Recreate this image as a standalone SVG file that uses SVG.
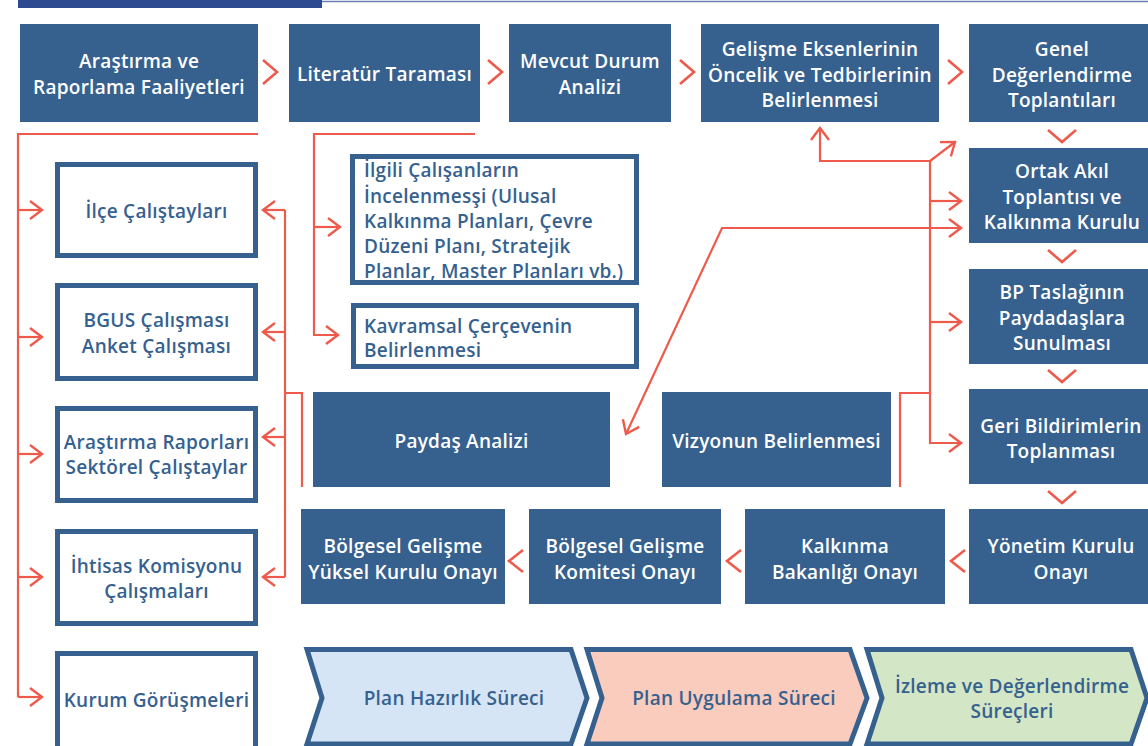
<svg xmlns="http://www.w3.org/2000/svg" width="1148" height="746" viewBox="0 0 1148 746">
<defs>
<style>
.fill{fill:#36618f}
.t{font-family:"Open Sans","Liberation Sans",sans-serif;font-weight:600;font-size:19px;letter-spacing:0.25px;text-anchor:middle}
.w{fill:#ffffff}
.b{fill:#36618f}
.l{text-anchor:start}
.ob{fill:#ffffff;stroke:#36618f;stroke-width:5}
.ch{stroke:#36618f;stroke-width:5;stroke-linejoin:miter}
.c{fill:none;stroke:#ee5a4c;stroke-width:2.2}
.cv{fill:none;stroke:#ee5a4c;stroke-width:2.6}
</style>
<marker id="ah" markerUnits="userSpaceOnUse" viewBox="-14 -11 16 22" refX="0" refY="0" markerWidth="16" markerHeight="22" orient="auto-start-reverse">
<path d="M-12,-9 L0,0 L-12,9" fill="none" stroke="#ee5a4c" stroke-width="2.4"/>
</marker>
</defs>
<rect x="0" y="0" width="1148" height="746" fill="#ffffff"/>
<rect x="18" y="0" width="304" height="8" fill="#2d4a91"/>
<line x1="322" y1="1.5" x2="1148" y2="1.5" stroke="#6b7fb5" stroke-width="1.5"/>

<g id="connectors">
<polyline class="cv" points="263,60 277,72 263,84"/>
<polyline class="cv" points="488,60 502,72 488,84"/>
<polyline class="cv" points="680,60 694,72 680,84"/>
<polyline class="cv" points="948,60 962,72 948,84"/>
<polyline class="cv" points="1048,130 1062,142 1076,130"/>
<polyline class="cv" points="1048,250 1062,262 1076,250"/>
<polyline class="cv" points="1048,370 1062,382 1076,370"/>
<polyline class="cv" points="1048,491 1062,503 1076,491"/>
<polyline class="cv" points="965,550 951,561 965,572"/>
<polyline class="cv" points="741,550 727,561 741,572"/>
<polyline class="cv" points="523,550 509,561 523,572"/>
<path class="c" d="M258,134 L18,134 L18,697"/>
<path class="c" d="M18,210 L42,210" marker-end="url(#ah)"/>
<path class="c" d="M18,337 L42,337" marker-end="url(#ah)"/>
<path class="c" d="M18,454 L42,454" marker-end="url(#ah)"/>
<path class="c" d="M18,577 L42,577" marker-end="url(#ah)"/>
<path class="c" d="M18,697 L42,697" marker-end="url(#ah)"/>
<path class="c" d="M475,134 L314,134 L314,335 L338,335" marker-end="url(#ah)"/>
<path class="c" d="M314,227 L340,227" marker-end="url(#ah)"/>
<path class="c" d="M285,210 L285,577"/>
<path class="c" d="M285,210 L263,210" marker-end="url(#ah)"/>
<path class="c" d="M285,332 L263,332" marker-end="url(#ah)"/>
<path class="c" d="M285,437 L263,437" marker-end="url(#ah)"/>
<path class="c" d="M285,577 L263,577" marker-end="url(#ah)"/>
<path class="c" d="M285,393 L302,393 L302,487"/>
<path class="c" d="M930,161 L820,161 L820,128" marker-end="url(#ah)"/>
<path class="c" d="M930,161 L955,142" marker-end="url(#ah)"/>
<path class="c" d="M930,161 L930,443 L961,443" marker-end="url(#ah)"/>
<path class="c" d="M930,201 L961,201" marker-end="url(#ah)"/>
<path class="c" d="M930,322 L961,322" marker-end="url(#ah)"/>
<path class="c" d="M930,393 L900,393 L900,487"/>
<path class="c" d="M961,228 L722,228 L626,434" marker-start="url(#ah)" marker-end="url(#ah)"/>
</g>

<g id="n-arastirma-raporlama"><rect class="fill" x="20" y="24" width="238" height="98"/>
<text class="t w" x="139" y="68">Araştırma ve</text><text class="t w" x="139" y="94">Raporlama Faaliyetleri</text></g>
<g id="n-literatur"><rect class="fill" x="289" y="24" width="191" height="98"/>
<text class="t w" x="384.5" y="81">Literatür Taraması</text></g>
<g id="n-mevcut"><rect class="fill" x="509" y="24" width="162" height="98"/>
<text class="t w" x="590" y="68">Mevcut Durum</text><text class="t w" x="590" y="94">Analizi</text></g>
<g id="n-gelisme"><rect class="fill" x="701" y="24" width="238" height="98"/>
<text class="t w" x="820" y="56">Gelişme Eksenlerinin</text><text class="t w" x="820" y="81.5">Öncelik ve Tedbirlerinin</text><text class="t w" x="820" y="107">Belirlenmesi</text></g>
<g id="n-genel"><rect class="fill" x="969" y="24" width="179" height="98"/>
<text class="t w" x="1062" y="56">Genel</text><text class="t w" x="1062" y="81.5">Değerlendirme</text><text class="t w" x="1062" y="107">Toplantıları</text></g>
<g id="n-ortak"><rect class="fill" x="969" y="148" width="179" height="95"/>
<text class="t w" x="1062" y="178">Ortak Akıl</text><text class="t w" x="1062" y="204">Toplantısı ve</text><text class="t w" x="1062" y="229">Kalkınma Kurulu</text></g>
<g id="n-bp"><rect class="fill" x="969" y="269" width="179" height="95"/>
<text class="t w" x="1062" y="299">BP Taslağının</text><text class="t w" x="1062" y="325">Paydadaşlara</text><text class="t w" x="1062" y="350">Sunulması</text></g>
<g id="n-geri"><rect class="fill" x="969" y="389" width="179" height="95"/>
<text class="t w" x="1061" y="433">Geri Bildirimlerin</text><text class="t w" x="1061" y="458">Toplanması</text></g>
<g id="n-yonetim"><rect class="fill" x="969" y="509" width="179" height="95"/>
<text class="t w" x="1061" y="553">Yönetim Kurulu</text><text class="t w" x="1061" y="579">Onayı</text></g>
<g id="n-bakanlik"><rect class="fill" x="745" y="509" width="200" height="95"/>
<text class="t w" x="845" y="553">Kalkınma</text><text class="t w" x="845" y="579">Bakanlığı Onayı</text></g>
<g id="n-komite"><rect class="fill" x="529" y="509" width="192" height="95"/>
<text class="t w" x="625" y="553">Bölgesel Gelişme</text><text class="t w" x="625" y="579">Komitesi Onayı</text></g>
<g id="n-yuksel"><rect class="fill" x="301" y="509" width="204" height="95"/>
<text class="t w" x="403" y="553">Bölgesel Gelişme</text><text class="t w" x="403" y="579">Yüksel Kurulu Onayı</text></g>
<g id="n-paydas"><rect class="fill" x="313" y="392" width="297" height="95"/>
<text class="t w" x="461.5" y="448">Paydaş Analizi</text></g>
<g id="n-vizyon"><rect class="fill" x="662" y="392" width="229" height="95"/>
<text class="t w" x="776.5" y="448">Vizyonun Belirlenmesi</text></g>

<g id="n-ilce"><rect class="ob" x="57.5" y="164.5" width="198" height="91"/>
<text class="t b" x="156.5" y="218">İlçe Çalıştayları</text></g>
<g id="n-bgus"><rect class="ob" x="57.5" y="285.5" width="198" height="93"/>
<text class="t b" x="156.5" y="327">BGUS Çalışması</text><text class="t b" x="156.5" y="353">Anket Çalışması</text></g>
<g id="n-raporlar"><rect class="ob" x="57.5" y="408.5" width="198" height="92"/>
<text class="t b" x="156.5" y="449">Araştırma Raporları</text><text class="t b" x="156.5" y="474">Sektörel Çalıştaylar</text></g>
<g id="n-ihtisas"><rect class="ob" x="57.5" y="531.5" width="198" height="92"/>
<text class="t b" x="156.5" y="573">İhtisas Komisyonu</text><text class="t b" x="156.5" y="598">Çalışmaları</text></g>
<g id="n-kurum"><rect class="ob" x="57.5" y="653.5" width="198" height="96"/>
<text class="t b" x="156.5" y="707">Kurum Görüşmeleri</text></g>
<g id="n-ilgili"><rect x="352.5" y="156.5" width="284" height="126" fill="#ffffff"/>
<text class="t b l" x="364" y="177">İlgili Çalışanların</text>
<text class="t b l" x="364" y="203">İncelenmesşi (Ulusal</text>
<text class="t b l" x="364" y="228">Kalkınma Planları, Çevre</text>
<text class="t b l" x="364" y="253">Düzeni Planı, Stratejik</text>
<text class="t b l" x="364" y="278">Planlar, Master Planları vb.)</text>
<rect x="352.5" y="156.5" width="284" height="126" fill="none" stroke="#36618f" stroke-width="5"/></g>
<g id="n-kavramsal"><rect class="ob" x="353.5" y="305.5" width="283" height="61"/>
<text class="t b l" x="364" y="333">Kavramsal Çerçevenin</text><text class="t b l" x="364" y="357">Belirlenmesi</text></g>

<g id="n-hazirlik"><polygon class="ch" fill="#d5e5f5" points="307,649.5 571,649.5 587,698 571,744 307,744 322,698"/>
<text class="t b" x="454" y="705">Plan Hazırlık Süreci</text></g>
<g id="n-uygulama"><polygon class="ch" fill="#f9ccbd" points="587,649.5 850,649.5 867,698 850,744 587,744 602,698"/>
<text class="t b" x="734" y="705">Plan Uygulama Süreci</text></g>
<g id="n-izleme"><polygon class="ch" fill="#d3e6c6" points="867,649.5 1131,649.5 1147,698 1131,744 867,744 882,698"/>
<text class="t b" x="1012" y="693">İzleme ve Değerlendirme</text><text class="t b" x="1012" y="718">Süreçleri</text></g>
</svg>
